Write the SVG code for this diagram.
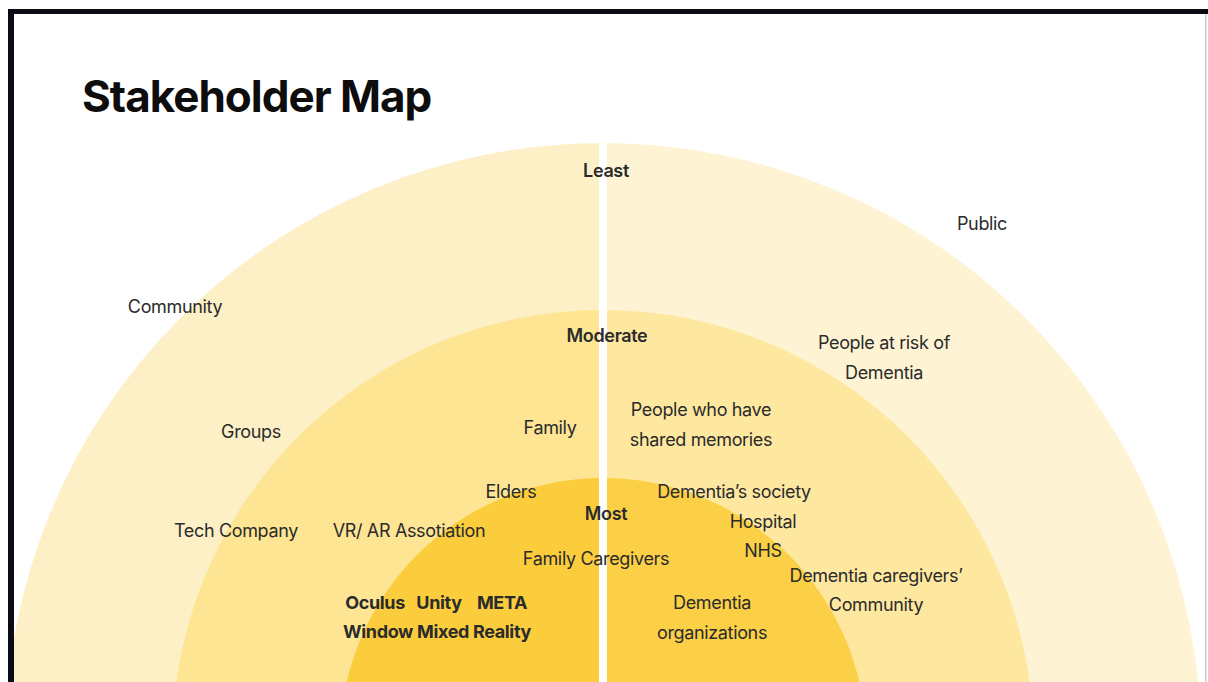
<svg xmlns="http://www.w3.org/2000/svg" width="1208" height="682" viewBox="0 0 1208 682">
  <style>
    .lbl { font-family: Inter, "Liberation Sans", Arial, sans-serif; font-size: 18px; fill: #2b2b2b; text-anchor: middle; letter-spacing: -0.35px; }
    .strong { font-weight: 600; }
    .bold { font-weight: 700; }
    .title { font-family: Inter, "Liberation Sans", Arial, sans-serif; font-size: 44px; font-weight: 700; fill: #0d0d0d; letter-spacing: -1px; }
  </style>

  <!-- page -->
  <rect x="0" y="0" width="1208" height="682" fill="#ffffff"/>

  <!-- concentric influence bands, centre (603,741) -->
  <g id="band-least">
    <path d="M603,143 A598,598 0 0 0 603,1339 Z" fill="#fdf0c6"/>
    <path d="M603,143 A598,598 0 0 1 603,1339 Z" fill="#fef4d4"/>
  </g>
  <g id="band-moderate">
    <path d="M603,310 A431,431 0 0 0 603,1172 Z" fill="#fde594"/>
    <path d="M603,310 A431,431 0 0 1 603,1172 Z" fill="#fee8a0"/>
  </g>
  <g id="band-most">
    <path d="M603,478 A263,263 0 0 0 603,1004 Z" fill="#fbcd3c"/>
    <path d="M603,478 A263,263 0 0 1 603,1004 Z" fill="#fcd046"/>
  </g>

  <!-- divider -->
  <rect id="divider" x="599" y="143" width="8" height="540" fill="#ffffff"/>

  <!-- frame -->
  <g id="frame">
    <rect x="8" y="9" width="1200" height="5" fill="#0b0b14"/>
    <rect x="8" y="9" width="6" height="673" fill="#0b0b14"/>
    <rect x="1205" y="14" width="1.5" height="668" fill="#c9cbd6"/>
  </g>

  <g id="title"><text class="title" x="82" y="112">Stakeholder Map</text></g>

  <!-- level labels -->
  <g id="level-least"><text class="lbl strong" x="606" y="177">Least</text></g>
  <g id="level-moderate"><text class="lbl strong" x="607" y="342">Moderate</text></g>
  <g id="level-most"><text class="lbl strong" x="606" y="520">Most</text></g>

  <!-- stakeholders -->
  <g id="public"><text class="lbl" x="982" y="230">Public</text></g>
  <g id="community"><text class="lbl" x="175" y="313">Community</text></g>
  <g id="people-at-risk">
    <text class="lbl" x="884" y="349">People at risk of</text>
    <text class="lbl" x="884" y="379">Dementia</text>
  </g>
  <g id="groups"><text class="lbl" x="251" y="438">Groups</text></g>
  <g id="family"><text class="lbl" x="550" y="434">Family</text></g>
  <g id="shared-memories">
    <text class="lbl" x="701" y="416">People who have</text>
    <text class="lbl" x="701" y="446">shared memories</text>
  </g>
  <g id="elders"><text class="lbl" x="511" y="498">Elders</text></g>
  <g id="dementia-society"><text class="lbl" x="734" y="498">Dementia’s society</text></g>
  <g id="hospital"><text class="lbl" x="763" y="528">Hospital</text></g>
  <g id="tech-company"><text class="lbl" x="236" y="537">Tech Company</text></g>
  <g id="vr-ar"><text class="lbl" x="409" y="537">VR/ AR Assotiation</text></g>
  <g id="family-caregivers"><text class="lbl" x="596" y="565">Family Caregivers</text></g>
  <g id="nhs"><text class="lbl" x="763" y="557">NHS</text></g>
  <g id="caregivers-community">
    <text class="lbl" x="876" y="582">Dementia caregivers’</text>
    <text class="lbl" x="876" y="611">Community</text>
  </g>
  <g id="vr-platforms">
    <text class="lbl bold" x="375" y="609">Oculus</text>
    <text class="lbl bold" x="439" y="609">Unity</text>
    <text class="lbl bold" x="502" y="609">META</text>
    <text class="lbl bold" x="437" y="638">Window Mixed Reality</text>
  </g>
  <g id="dementia-organizations">
    <text class="lbl" x="712" y="609">Dementia</text>
    <text class="lbl" x="712" y="639">organizations</text>
  </g>
</svg>
